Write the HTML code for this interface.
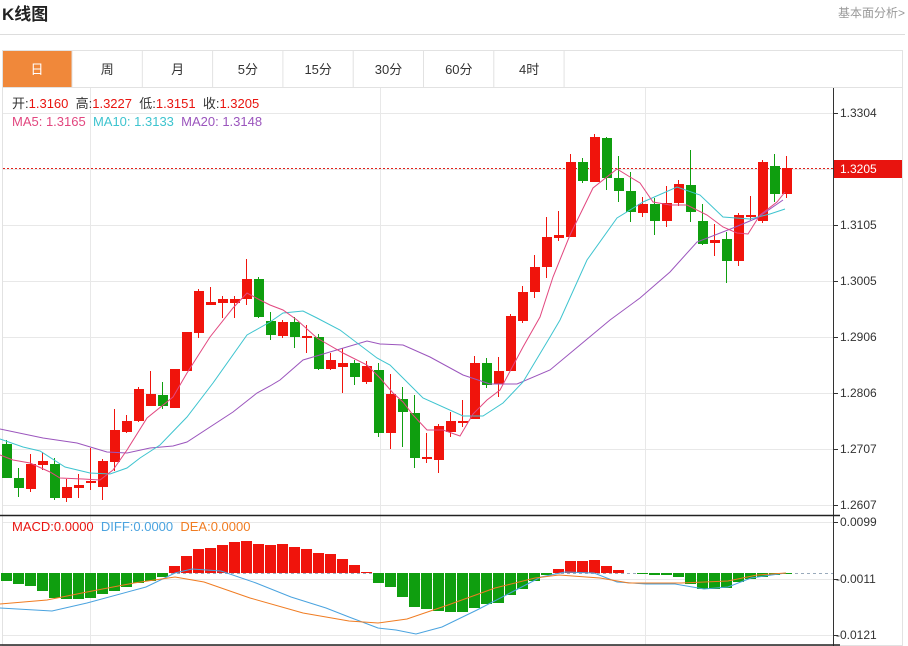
<!DOCTYPE html>
<html><head><meta charset="utf-8"><style>
body{margin:0;width:908px;height:646px;overflow:hidden;background:#fff;font-family:"Liberation Sans","Noto Sans CJK SC",sans-serif;}
</style></head><body>
<svg id="s" width="908" height="646" xmlns="http://www.w3.org/2000/svg" style="position:absolute;left:0;top:0;font-family:'Liberation Sans','Noto Sans CJK SC',sans-serif">
<text x="2" y="20" font-size="17" font-weight="bold" fill="#222">K线图</text>
<text x="905" y="17" font-size="12" fill="#999" text-anchor="end">基本面分析&gt;</text>
<line x1="0" y1="34.5" x2="905" y2="34.5" stroke="#ddd"/>
<rect x="2.5" y="50.5" width="900" height="595" fill="none" stroke="#e2e2e2"/>
<line x1="2" y1="87.5" x2="903" y2="87.5" stroke="#e2e2e2"/>
<rect x="3" y="51" width="69" height="36" fill="#f0883a"/>
<g id="tabs" font-size="13" fill="#333" text-anchor="middle"></g>
<g id="g"></g>
</svg>
<script>
var g=document.getElementById('g'),h='';
var tabs=['日','周','月','5分','15分','30分','60分','4时'],th='';
tabs.forEach(function(t,i){var cx=37+i*70.3;th+='<text x="'+cx+'" y="74" fill="'+(i==0?'#fff':'#333')+'">'+t+'</text>';th+='<line x1="'+(72+i*70.3)+'" y1="51" x2="'+(72+i*70.3)+'" y2="87" stroke="#e2e2e2"/>';});
document.getElementById('tabs').innerHTML=th;
[113,169,225,281,337,393,449,505].forEach(function(y){h+='<line x1="3" y1="'+y+'.5" x2="833" y2="'+y+'.5" stroke="#e8e8e8"/>';});
[522,579,635].forEach(function(y){h+='<line x1="3" y1="'+y+'.5" x2="833" y2="'+y+'.5" stroke="#e8e8e8"/>';});
[90,380,645].forEach(function(x){h+='<line x1="'+x+'.5" y1="88" x2="'+x+'.5" y2="645" stroke="#e8e8e8"/>';});
h+='<line x1="833.5" y1="88" x2="833.5" y2="646" stroke="#333"/>';
h+='<line x1="0" y1="515.5" x2="840" y2="515.5" stroke="#222" stroke-width="1.5"/>';
h+='<line x1="0" y1="645" x2="840" y2="645" stroke="#222" stroke-width="1.5"/>';
var labs=[[113,'1.3304'],[225,'1.3105'],[281,'1.3005'],[337,'1.2906'],[393,'1.2806'],[449,'1.2707'],[505,'1.2607'],[522,'0.0099'],[579,'-0.0011'],[635,'-0.0121']];
labs.forEach(function(l){h+='<line x1="833" y1="'+l[0]+'.5" x2="838" y2="'+l[0]+'.5" stroke="#333"/><text x="'+(l[1][0]=='-'?836:840)+'" y="'+(l[0]+4)+'" font-size="12" fill="#333">'+l[1]+'</text>';});
h+='<line x1="3" y1="168.5" x2="833" y2="168.5" stroke="#e0201a" stroke-dasharray="2,2"/>';
h+='<rect x="834" y="160" width="68" height="18" fill="#e8140f"/><text x="840" y="173" font-size="12" fill="#fff">1.3205</text>';
h+='<line x1="3" y1="573.5" x2="833" y2="573.5" stroke="#9ab" stroke-dasharray="3,3"/>';
var C=[[444,478,440,478],[478,488,468,497],[489,464,454,492],[465,461,452,470],[464,498,458,500],[498,487,479,502],[488,485,474,498],[483,481,448,490],[487,461,459,500],[462,430,409,471],[432,421,415,433],[421,389,387,422],[406,394,371,406],[395,406,382,409],[408,369,369,408],[371,332,332,371],[333,291,289,338],[305,302,287,305],[303,299,296,318],[303,299,296,318],[299,279,259,305],[279,317,277,318],[321,335,312,340],[336,322,320,338],[322,337,317,348],[337,336,325,353],[337,369,334,370],[369,360,353,370],[367,363,348,393],[363,377,360,385],[382,366,361,384],[370,433,363,437],[433,394,374,449],[399,412,387,447],[413,458,395,468],[458,457,433,463],[460,426,424,473],[432,421,412,437],[423,421,400,427],[419,363,356,419],[363,385,358,388],[384,371,357,397],[371,316,314,371],[321,292,286,323],[292,267,255,298],[267,237,217,278],[238,235,211,241],[237,162,154,237],[162,181,158,183],[182,137,134,182],[138,178,137,190],[178,191,156,202],[191,212,172,222],[213,204,197,217],[204,221,198,235],[221,203,186,227],[203,184,180,206],[185,212,150,222],[221,244,204,245],[243,240,224,256],[239,261,232,283],[261,215,213,266],[217,215,196,220],[221,162,160,223],[166,194,154,202],[194,168,156,198]];
C.forEach(function(c,i){var x=6+i*12,up=c[1]<=c[0],col=up?'#f0140c':'#0f9e0f';var t=Math.min(c[0],c[1]),b=Math.max(c[0],c[1]);if(b-t<2)b=t+2;
h+='<line x1="'+x+'.5" y1="'+c[2]+'" x2="'+x+'.5" y2="'+c[3]+'" stroke="'+col+'"/><rect x="'+(x-4)+'" y="'+t+'" width="10" height="'+(b-t)+'" fill="'+col+'"/>';});
function pl(p,c){h+='<polyline fill="none" stroke="'+c+'" stroke-width="1" points="'+p.map(function(q){return q.join(',')}).join(' ')+'"/>';}
pl([[0,429],[43,438],[77,443],[107,452],[127,453],[150,448],[173,446],[187,442],[233,412],[257,393],[270,386],[280,380],[303,360],[367,341],[380,344],[403,345],[430,357],[463,375],[490,384],[517,384],[550,370],[580,345],[610,320],[640,298],[670,272],[697,242],[733,228],[757,218],[783,200]],'#9b55bd');
pl([[0,439],[23,447],[40,451],[65,467],[90,473],[110,474],[127,468],[140,458],[160,445],[187,417],[213,383],[247,335],[270,322],[283,313],[303,311],[317,318],[340,330],[377,358],[390,365],[423,398],[463,416],[483,416],[503,403],[523,382],[550,337],[560,320],[587,260],[617,218],[643,202],[677,187],[700,195],[723,217],[750,219],[770,214],[785,209]],'#3ec4cf');
pl([[0,455],[13,460],[30,463],[50,472],[60,478],[83,479],[100,480],[113,470],[127,450],[147,418],[173,397],[187,373],[210,337],[233,308],[247,293],[260,300],[270,305],[283,310],[297,320],[317,338],[343,353],[367,365],[380,378],[393,393],[403,402],[413,415],[427,430],[443,430],[460,436],[473,414],[487,400],[500,390],[523,347],[540,317],[553,277],[570,235],[593,188],[617,169],[630,177],[640,183],[653,202],[670,205],[687,205],[707,215],[723,227],[737,233],[748,234],[760,215],[777,202],[785,192]],'#e2477f');
var M=[581,584,586,591,598,599,599,598,594,591,587,583,581,577,566,556,549,548,545,542,541,544,545,544,547,549,553,554,559,565,572,583,587,597,607,609,611,612,612,608,604,603,595,589,581,575,569,561,561,560,566,570,573,574,575,575,577,584,589,589,588,582,579,577,575,574];
M.forEach(function(y,i){var x=6+i*12,z=573;if(Math.abs(y-z)<1)return;var col=y<z?'#f0140c':'#0f9e0f';h+='<rect x="'+(x-5)+'" y="'+Math.min(y,z)+'" width="11" height="'+Math.abs(y-z)+'" fill="'+col+'"/>';});
pl([[0,608],[52,611],[87,603],[146,587],[175,573],[192,569],[221,571],[256,583],[291,597],[326,608],[349,617],[378,628],[396,630],[416,634],[442,627],[477,610],[512,592],[541,577],[565,572],[594,573],[617,582],[646,584],[675,584],[704,589],[728,587],[751,578],[786,573]],'#4aa3df');
pl([[0,604],[47,600],[87,592],[134,583],[175,577],[204,582],[250,598],[303,613],[349,621],[378,623],[407,619],[448,605],[495,588],[535,578],[559,575],[600,578],[629,583],[681,583],[728,581],[757,575],[786,573]],'#f07c22');
h+='<text x="12" y="108" font-size="13" fill="#333" xml:space="preserve">开:<tspan fill="#e8140f">1.3160</tspan>  高:<tspan fill="#e8140f">1.3227</tspan>  低:<tspan fill="#e8140f">1.3151</tspan>  收:<tspan fill="#e8140f">1.3205</tspan></text>';
h+='<text x="12" y="126" font-size="13" fill="#e2477f" xml:space="preserve">MA5: 1.3165  <tspan fill="#3ec4cf">MA10: 1.3133</tspan>  <tspan fill="#9b55bd">MA20: 1.3148</tspan></text>';
h+='<text x="12" y="531" font-size="13" fill="#e8140f" xml:space="preserve">MACD:0.0000  <tspan fill="#4aa3df">DIFF:0.0000</tspan>  <tspan fill="#f07c22">DEA:0.0000</tspan></text>';
g.innerHTML=h;
</script>
</body></html>
